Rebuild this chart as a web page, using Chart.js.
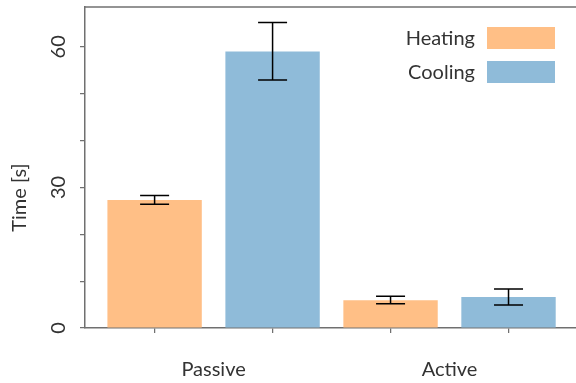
<!DOCTYPE html>
<html><head><meta charset="utf-8">
<script src="https://cdn.jsdelivr.net/npm/chart.js@4/dist/chart.umd.min.js"></script>
<style>html,body{margin:0;padding:0;background:#fff}#wrap{width:576px;height:383px}</style>
</head><body><div id="wrap"><canvas id="c" width="576" height="383"></canvas></div>
<script>
const categories = ['Passive', 'Active'];
const seriesNames = ['Heating', 'Cooling'];
const heating = [27.3, 5.9];
const heatingLow = [26.4, 5.2];
const heatingHigh = [28.3, 6.8];
const cooling = [59.0, 6.6];
const coolingLow = [52.9, 4.9];
const coolingHigh = [65.2, 8.3];
const yTicks = [0, 10, 20, 30, 40, 50, 60];
const yTickLabels = ['0', '', '', '30', '', '', '60'];
const yTitle = 'Time [s]';

const colors = ['#ffbf86', '#8fbbd9'];
const axisColor = '#707070';
const textColor = '#333333';
const FONT = 'Lato, "DejaVu Sans", sans-serif';
const fontSpec = { family: FONT, size: 20 };

const catPct = 1.0, barPct = 0.8;
const nSeries = seriesNames.length;
const barCenters = [];
categories.forEach((c, i) => {
  for (let d = 0; d < nSeries; d++) {
    barCenters.push(i + (d - (nSeries - 1) / 2) * (catPct / nSeries));
  }
});
const xMin = -0.545, xMax = 1.536;

const seriesData = [heating, cooling];
const seriesLow = [heatingLow, coolingLow];
const seriesHigh = [heatingHigh, coolingHigh];

const datasets = seriesNames.map((name, d) => ({
  label: name,
  data: categories.map((c, i) => ({ x: i, y: seriesData[d][i] })),
  backgroundColor: colors[d],
  borderWidth: 0,
  categoryPercentage: catPct,
  barPercentage: barPct,
  errLow: seriesLow[d],
  errHigh: seriesHigh[d],
  xAxisID: 'x',
  yAxisID: 'y'
}));

const errorBarPlugin = {
  id: 'errorBars',
  afterDatasetsDraw(chart) {
    const ctx = chart.ctx, ys = chart.scales.y;
    ctx.save();
    ctx.strokeStyle = '#000';
    ctx.lineWidth = 1.5;
    chart.data.datasets.forEach((ds, d) => {
      const meta = chart.getDatasetMeta(d);
      meta.data.forEach((el, i) => {
        const x = el.x;
        const yl = ys.getPixelForValue(ds.errLow[i]);
        const yh = ys.getPixelForValue(ds.errHigh[i]);
        const hw = 14.5;
        ctx.beginPath();
        ctx.moveTo(x, yl); ctx.lineTo(x, yh);
        ctx.moveTo(x - hw, yl); ctx.lineTo(x + hw, yl);
        ctx.moveTo(x - hw, yh); ctx.lineTo(x + hw, yh);
        ctx.stroke();
      });
    });
    ctx.restore();
  }
};

const framePlugin = {
  id: 'frame',
  afterDraw(chart) {
    const ctx = chart.ctx, a = chart.chartArea;
    ctx.save();
    ctx.strokeStyle = axisColor;
    ctx.lineWidth = 1.5;
    ctx.beginPath();
    ctx.moveTo(a.left, a.top); ctx.lineTo(a.right, a.top);
    ctx.stroke();
    ctx.fillStyle = textColor;
    ctx.font = '20px ' + FONT;
    ctx.textAlign = 'center';
    ctx.textBaseline = 'middle';
    ctx.translate(20, (a.top + a.bottom) / 2 + 30);
    ctx.rotate(-Math.PI / 2);
    ctx.fillText(yTitle, 0, 0);
    ctx.restore();
    ctx.save();
    ctx.font = '20px ' + FONT;
    ctx.textAlign = 'right';
    ctx.textBaseline = 'middle';
    const boxW = 68, boxH = 22, rowGap = 34;
    const boxRight = a.right - 21;
    chart.data.datasets.forEach((ds, d) => {
      const top = a.top + 20 + d * rowGap;
      ctx.fillStyle = ds.backgroundColor;
      ctx.fillRect(boxRight - boxW, top, boxW, boxH);
      ctx.fillStyle = textColor;
      ctx.fillText(ds.label, boxRight - boxW - 12, top + boxH / 2 + 1);
    });
    ctx.restore();
  }
};

const zeroPad = s => { s.paddingTop = 0; s.paddingBottom = 0; s.paddingLeft = 0; s.paddingRight = 0; };

new Chart(document.getElementById('c'), {
  type: 'bar',
  data: { datasets },
  options: {
    responsive: false,
    devicePixelRatio: 1,
    animation: false,
    layout: { padding: { top: 7, right: 0, bottom: 0, left: 0 } },
    plugins: { legend: { display: false }, tooltip: { enabled: false } },
    scales: {
      x: {
        type: 'linear', position: 'bottom', weight: 1, offset: false,
        min: xMin, max: xMax,
        afterBuildTicks: s => { s.ticks = categories.map((c, i) => ({ value: i })); },
        ticks: { callback: (v, i) => categories[i], font: fontSpec, color: textColor, padding: 17, maxRotation: 0, autoSkip: false },
        grid: { display: false, offset: false },
        border: { display: false },
        afterFit: s => { s.height = 50; zeroPad(s); }
      },
      xt: {
        type: 'linear', position: 'bottom', weight: 0, offset: false,
        min: xMin, max: xMax,
        afterBuildTicks: s => { s.ticks = barCenters.map(v => ({ value: v })); },
        ticks: { display: false },
        grid: { display: true, drawOnChartArea: false, drawTicks: true, tickLength: 5, color: axisColor, lineWidth: 1.25, offset: false },
        border: { display: true, color: axisColor, width: 1.5 },
        afterFit: s => { s.height = 5; zeroPad(s); }
      },
      y: {
        type: 'linear', min: 0, max: 68.5,
        afterBuildTicks: s => { s.ticks = yTicks.map(v => ({ value: v })); },
        ticks: { callback: (v, i) => yTickLabels[i], minRotation: 90, maxRotation: 90, crossAlign: 'center', padding: 10, font: fontSpec, color: textColor, autoSkip: false },
        grid: { drawOnChartArea: false, tickLength: 5, color: axisColor, lineWidth: 1.25 },
        border: { color: axisColor, width: 1.5 },
        afterFit: s => { s.width = 85; zeroPad(s); }
      }
    }
  },
  plugins: [errorBarPlugin, framePlugin]
});
</script></body></html>
